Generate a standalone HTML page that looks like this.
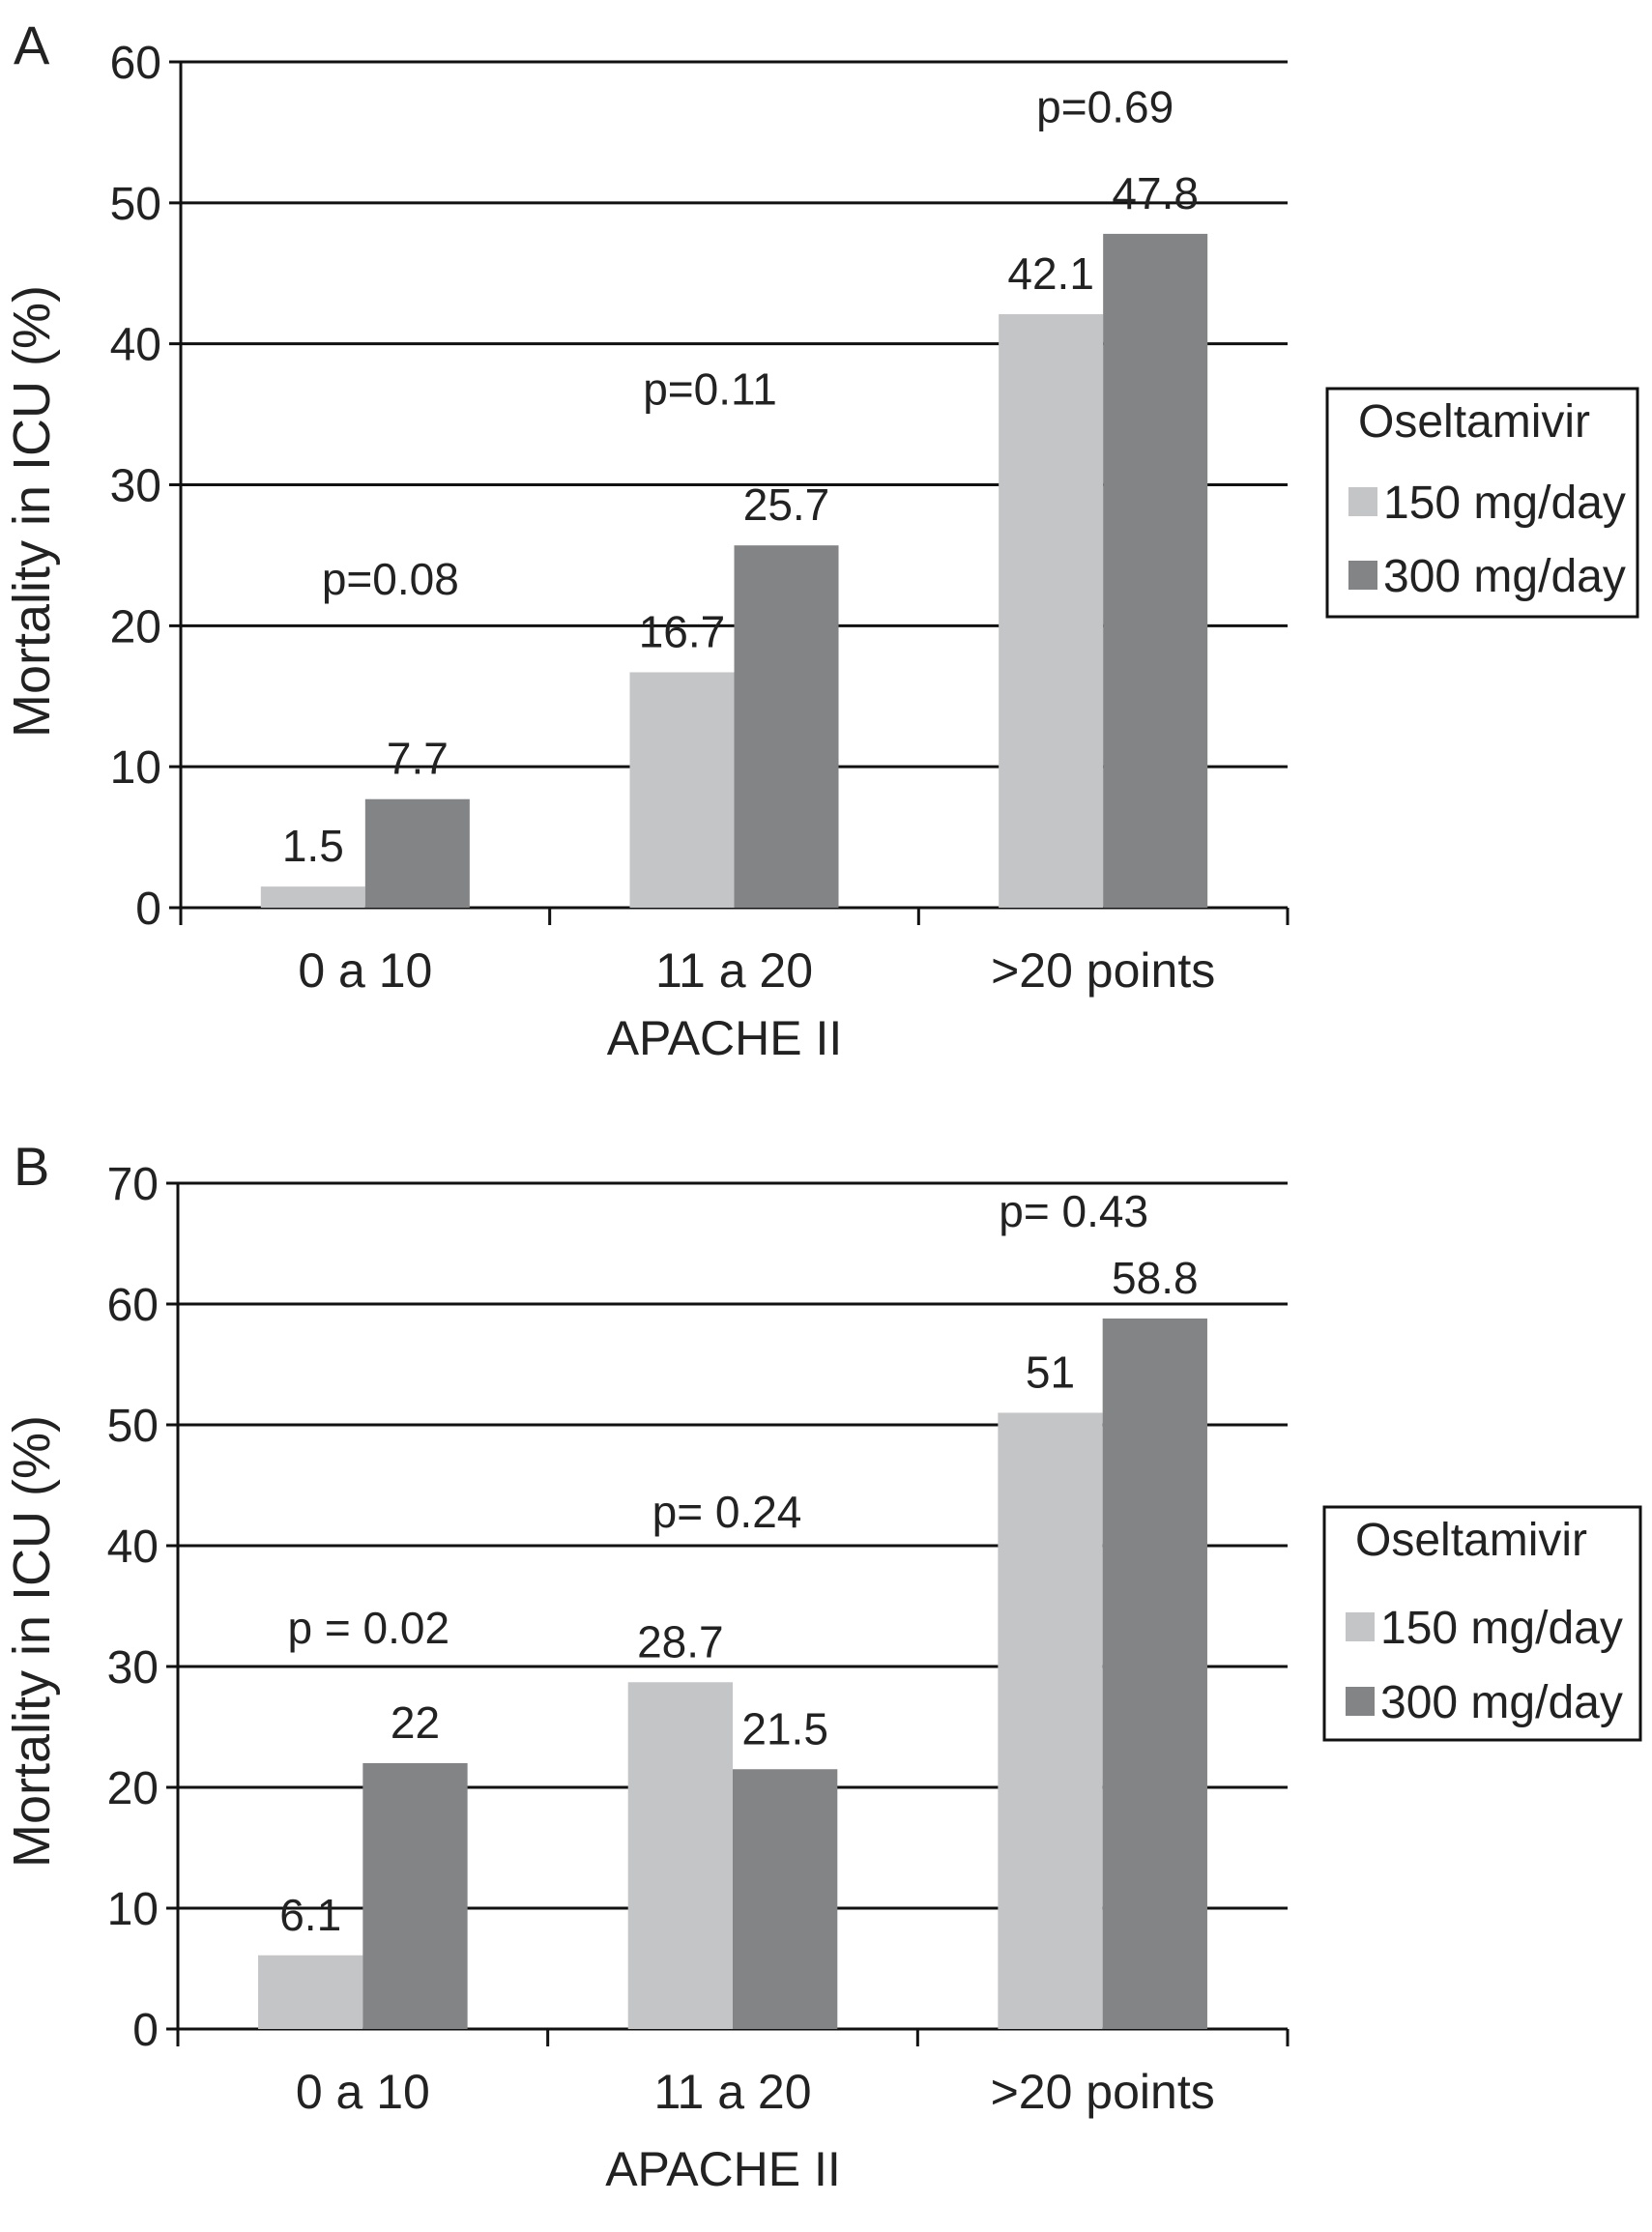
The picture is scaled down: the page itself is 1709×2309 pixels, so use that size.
<!DOCTYPE html>
<html><head><meta charset="utf-8"><style>
html,body{margin:0;padding:0;background:#fff;}
svg text{font-family:"Liberation Sans",sans-serif;fill:#222;}
</style></head><body>
<svg id="c" width="1709" height="2304" viewBox="0 0 1709 2304" xmlns="http://www.w3.org/2000/svg"></svg>
<script>
const categories = ["0 a 10", "11 a 20", ">20 points"];
const seriesNames = ["150 mg/day", "300 mg/day"];
const aLow = [1.5, 16.7, 42.1];
const aHigh = [7.7, 25.7, 47.8];
const aP = ["p=0.08", "p=0.11", "p=0.69"];
const aPY = [23.3, 36.8, 56.8];
const aTicks = [0, 10, 20, 30, 40, 50, 60];
const bLow = [6.1, 28.7, 51];
const bHigh = [22, 21.5, 58.8];
const bP = ["p = 0.02", "p= 0.24", "p= 0.43"];
const bPY = [33.2, 42.8, 67.7];
const bTicks = [0, 10, 20, 30, 40, 50, 60, 70];

const NS = "http://www.w3.org/2000/svg";
const svg = document.getElementById("c");
function mk(tag, attrs, parent, txt){
  const e = document.createElementNS(NS, tag);
  for (const k in attrs) e.setAttribute(k, attrs[k]);
  if (txt !== undefined) e.textContent = txt;
  (parent || svg).appendChild(e);
  return e;
}
const LIGHT = "#c4c5c7", DARK = "#838486";

function panel(cfg){
  const g = mk("g", {});
  
  
  const L = cfg.left, R = cfg.right, Y0 = cfg.y0, Ytop = cfg.ytop, max = cfg.ticks[cfg.ticks.length-1];
  const y = v => Y0 - (v / max) * (Y0 - Ytop);
  const gw = (R - L) / categories.length;
  const cx = i => L + gw * (i + 0.5);
  const bw = gw * 0.283;
  const lt = mk("text", {x: 14, y: Ytop + 2, "font-size": 56}, g, cfg.letter);
  
  
  cfg.ticks.forEach(t => {
    const ln = mk("line", {x1: L - 12, x2: R, y1: y(t), y2: y(t), stroke: "#111", "stroke-width": 3}, g);
    
    
    const tx = mk("text", {x: L - 20, y: y(t) + 17, "font-size": 48, "text-anchor": "end"}, g, String(t));
    
    
  });
  categories.forEach((c, i) => {
    const b1 = mk("rect", {x: cx(i) - bw, y: y(cfg.low[i]), width: bw, height: Y0 - y(cfg.low[i]), fill: LIGHT}, g);
    
    
    const b2 = mk("rect", {x: cx(i), y: y(cfg.high[i]), width: bw, height: Y0 - y(cfg.high[i]), fill: DARK}, g);
    
    
    const l1 = mk("text", {x: cx(i) - bw/2, y: y(cfg.low[i]) - 26, "font-size": 46, "text-anchor": "middle"}, g, String(cfg.low[i]));
    
    
    const l2 = mk("text", {x: cx(i) + bw/2, y: y(cfg.high[i]) - 26, "font-size": 46, "text-anchor": "middle"}, g, String(cfg.high[i]));
    
    
    const pt = mk("text", {x: cx(i) + cfg.pdx[i], y: y(cfg.pY[i]) + 16, "font-size": 46, "text-anchor": "middle"}, g, cfg.p[i]);
    
    
    const cl = mk("text", {x: cx(i), y: Y0 + 82, "font-size": 50, "text-anchor": "middle"}, g, c);
    
    
  });
  const ya = mk("line", {x1: L, x2: L, y1: Ytop, y2: Y0 + 18, stroke: "#111", "stroke-width": 3}, g);
  
  
  for (let i = 0; i <= categories.length; i++) {
    const tk = mk("line", {x1: L + gw*i, x2: L + gw*i, y1: Y0, y2: Y0 + 18, stroke: "#111", "stroke-width": 3}, g);
    
    
  }
  const xt = mk("text", {x: (L+R)/2 - 10, y: cfg.xTitleY, "font-size": 50, "text-anchor": "middle"}, g, "APACHE II");
  
  
  const yt = mk("text", {x: 0, y: 0, "font-size": 54, "text-anchor": "middle", transform: `translate(51,${cfg.yTitleY}) rotate(-90)`}, g, "Mortality in ICU (%)");
  
  
  const lg = mk("g", {}, g);
  
  
  const [bx, by, bW, bH] = cfg.legend;
  mk("rect", {x: bx, y: by, width: bW, height: bH, fill: "#fff", stroke: "#111", "stroke-width": 3}, lg);
  const lt2 = mk("text", {x: bx + 32, y: by + 50, "font-size": 48}, lg, "Oseltamivir");
  
  
  [LIGHT, DARK].forEach((col, k) => {
    const cy = by + cfg.legRows[k];
    const sw = mk("rect", {x: bx + 22, y: cy - 15, width: 30, height: 30, fill: col}, lg);
    
    
    const et = mk("text", {x: bx + 58, y: cy + 17, "font-size": 48}, lg, seriesNames[k]);
    
    
  });
}

panel({name: "panel-a", letter: "A", left: 187, right: 1332, y0: 939, ytop: 64, ticks: aTicks,
  low: aLow, high: aHigh, p: aP, pY: aPY, pdx: [26, -25, 2], xTitleY: 1091, yTitleY: 529,
  legend: [1373, 402, 321, 236], legRows: [117, 193]});
panel({name: "panel-b", letter: "B", left: 184, right: 1332, y0: 2099, ytop: 1224, ticks: bTicks,
  low: bLow, high: bHigh, p: bP, pY: bPY, pdx: [6, -6, -30], xTitleY: 2261, yTitleY: 1698,
  legend: [1370, 1559, 327, 241], legRows: [124, 201]});
</script>
</body></html>
